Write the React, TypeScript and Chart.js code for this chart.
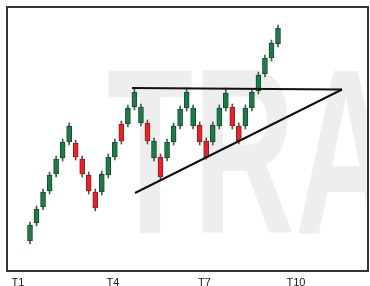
import React, { useEffect, useRef } from "react";
import { Chart, registerables } from "chart.js";

Chart.register(...registerables);

// Candle data (price units), one entry per candle
const opens = [30, 48, 64, 80, 97, 113, 129, 128, 112, 96, 79, 79, 96, 114, 147, 147, 164, 148, 148, 113, 114, 113, 129, 145, 163, 145, 146, 130, 129, 145, 163, 164, 145, 145, 163, 180, 197, 213, 227];
const closes = [46, 62, 79, 96, 112, 129, 145, 114, 97, 80, 63, 97, 114, 129, 130, 163, 179, 164, 130, 130, 94, 129, 145, 162, 179, 163, 129, 114, 146, 163, 178, 145, 130, 163, 179, 196, 213, 228, 243];
const highs = [49, 65, 82, 99, 115, 132, 148, 131, 115, 99, 82, 100, 117, 132, 150, 166, 183, 167, 151, 133, 117, 132, 148, 165, 183, 166, 149, 133, 149, 166, 183, 167, 148, 166, 182, 199, 216, 231, 246];
const lows = [27, 45, 61, 77, 94, 110, 126, 111, 94, 77, 60, 76, 93, 111, 127, 144, 161, 145, 127, 110, 92, 110, 126, 142, 160, 142, 126, 112, 126, 142, 160, 142, 127, 142, 160, 177, 194, 210, 224];

// Axis tick labels and where they sit (in candle-index units)
const tickLabels = ["T1", "T4", "T7", "T10"];
const tickAt = [-1.84, 12.72, 26.74, 40.76];

// Pattern lines: resistance and rising support
const resistance = [
  { x: 15.63, y: 183 },
  { x: 47.81, y: 181.5 },
];
const support = [
  { x: 16.09, y: 78 },
  { x: 47.81, y: 181.5 },
];

const watermarkText = "TRADING";

const X_MIN = -3.524;
const X_MAX = 51.79;

const GREEN = "#1f7a47";
const GREEN_EDGE = "#15502f";
const RED = "#e3242b";
const RED_EDGE = "#9e1a1e";

export default function App() {
  const ref = useRef<HTMLCanvasElement | null>(null);

  useEffect(() => {
    if (!ref.current) return;
    const isUp = opens.map((o, i) => closes[i] >= o);

    const watermark = {
      id: "watermark",
      beforeDatasetsDraw(chart: any) {
        const { ctx, chartArea } = chart;
        ctx.save();
        ctx.beginPath();
        ctx.rect(chartArea.left, chartArea.top, chartArea.right - chartArea.left, chartArea.bottom - chartArea.top);
        ctx.clip();
        ctx.fillStyle = "#eeeeee";
        ctx.font = "bold 235px 'Liberation Sans', Arial, sans-serif";
        ctx.textBaseline = "alphabetic";
        ctx.textAlign = "left";
        ctx.scale(0.6, 1);
        ctx.fillText(watermarkText, 107 / 0.6, 233);
        ctx.restore();
      },
    };

    const frame = {
      id: "frame",
      afterDraw(chart: any) {
        const { ctx, chartArea } = chart;
        ctx.save();
        ctx.strokeStyle = "#333333";
        ctx.lineWidth = 2;
        ctx.strokeRect(chartArea.left, chartArea.top, chartArea.right - chartArea.left, chartArea.bottom - chartArea.top);
        ctx.restore();
      },
    };

    const chart = new Chart(ref.current, {
      type: "bar",
      data: {
        datasets: [
          {
            type: "line",
            data: resistance,
            borderColor: "#111111",
            borderWidth: 2,
            pointRadius: 0,
            order: 0,
          } as any,
          {
            type: "line",
            data: support,
            borderColor: "#111111",
            borderWidth: 2,
            pointRadius: 0,
            order: 0,
          } as any,
          {
            type: "bar",
            data: opens.map((o, i) => ({ x: i, y: [o, closes[i]] })),
            backgroundColor: isUp.map((u) => (u ? GREEN : RED)),
            borderColor: isUp.map((u) => (u ? GREEN_EDGE : RED_EDGE)),
            borderWidth: 1,
            borderSkipped: false,
            barThickness: 5,
            grouped: false,
            order: 1,
          } as any,
          {
            type: "bar",
            data: lows.map((l, i) => ({ x: i, y: [l, highs[i]] })),
            backgroundColor: "#4a5a50",
            borderWidth: 0,
            barThickness: 1,
            grouped: false,
            order: 2,
          } as any,
        ],
      },
      options: {
        animation: false,
        responsive: false,
        maintainAspectRatio: false,
        layout: { padding: { left: 7, top: 7, right: 2, bottom: 0 } },
        plugins: { legend: { display: false }, tooltip: { enabled: false } },
        scales: {
          x: {
            type: "linear",
            offset: false,
            min: X_MIN,
            max: X_MAX,
            grid: { display: false, drawTicks: false, offset: false },
            border: { display: false },
            afterBuildTicks: (s: any) => {
              s.ticks = tickAt.map((v) => ({ value: v }));
            },
            afterFit: (s: any) => {
              s.height = 15;
            },
            ticks: {
              autoSkip: false,
              maxRotation: 0,
              padding: 5,
              color: "#222222",
              font: { family: "'Liberation Sans', Arial, sans-serif", size: 11 },
              callback: (_v: any, i: number) => tickLabels[i],
            },
          },
          y: { display: false, min: 0, max: 264 },
        },
      },
      plugins: [watermark, frame],
    } as any);

    return () => chart.destroy();
  }, []);

  return (
    <div style={{ position: "fixed", left: 0, top: 0, width: 370, height: 286, background: "#ffffff" }}>
      <canvas ref={ref} width={370} height={286} style={{ display: "block" }} />
    </div>
  );
}
